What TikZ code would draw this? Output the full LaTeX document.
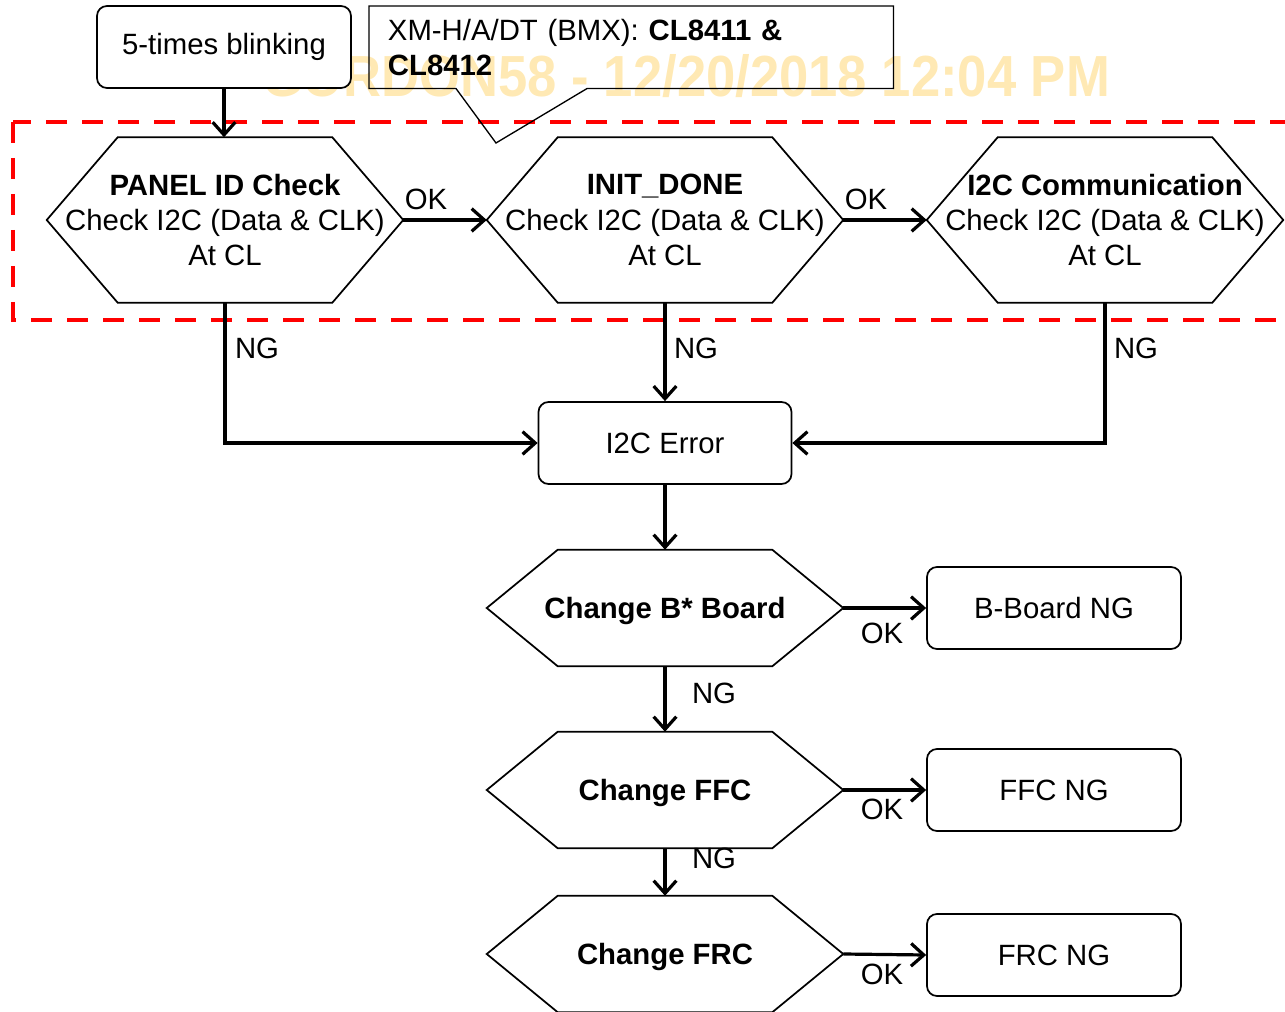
\documentclass[tikz,border=0pt]{standalone}
\usepackage{fontspec}
\setmainfont{Liberation Sans}
\usetikzlibrary{arrows.meta}
\definecolor{wmark}{RGB}{255,233,180}
\tikzset{
  txt/.style={font=\fontsize{22}{26.6}\selectfont},
  hexbox/.style={txt, draw=none, minimum width=160.5pt, align=center, inner sep=0pt},
  hextop/.style={hexbox, minimum height=123.75pt},
  hexlow/.style={hexbox, minimum height=87pt, text height=15.5pt, text depth=0pt},
  hexline/.style={draw=black, line width=1.3pt, line join=miter},
  rbox/.style={txt, draw, line width=1.3pt, rounded corners=7.5pt, minimum width=190.5pt, minimum height=61.5pt, fill=white, align=center, inner sep=0pt},
  flow/.style={line width=2.4pt, -{Straight Barb[length=9.5pt,width=17pt,line width=2.4pt]}},
  lbl/.style={txt, inner sep=0pt},
  callbox/.style={txt, draw=none, align=left, text width=365pt, inner xsep=14pt, inner ysep=0pt, minimum height=61.5pt},
  redframe/.style={draw=red, line width=3.3pt, dash pattern=on 16pt off 11pt},
}
\newcommand{\hl}[1]{\makebox[160.5pt]{#1}}
\newcommand{\hexout}[1]{\draw[hexline] (#1.north west) -- (#1.north east) -- ([xshift=53.25pt]#1.east) coordinate (#1-r) -- (#1.south east) -- (#1.south west) -- ([xshift=-53.25pt]#1.west) coordinate (#1-l) -- cycle;}
\begin{document}
\begin{tikzpicture}[x=0.75pt,y=-0.75pt]
\useasboundingbox (0,0) rectangle (1285,1012);
\begin{scope}
\clip (0,0) rectangle (1285,1012);
% watermark
\node[text=wmark, inner sep=0pt] (wm) at (686,76) {\scalebox{0.907}[1]{\fontsize{43.5}{43.5}\selectfont\bfseries GORDON58 - 12/20/2018 12:04 PM}};
% red dashed frame
\draw[redframe] (13,122) rectangle (1300,320);
% start box
\node[rbox] (blink) at (224,47) {5-times blinking};
% callout
\node[callbox, anchor=north west] (cal) at (369,6) {XM-H/A/DT (BMX): \textbf{CL8411 \&}\\\textbf{CL8412}};
\coordinate (calTip) at (496,143);
\draw[line width=1pt] (cal.south west) -- ([xshift=65.25pt]cal.south west) -- (calTip) -- ([xshift=163.5pt]cal.south west) -- (cal.south east) -- (cal.north east) -- (cal.north west) -- cycle;
% top hexagons
\node[hextop] (p) at (225,220) {\hl{\textbf{PANEL ID Check}}\\\hl{Check I2C (Data \& CLK)}\\\hl{At CL}};
\node[hextop] (i) at (665,220) {\hl{\textbf{INIT\_DONE}}\\\hl{Check I2C (Data \& CLK)}\\\hl{At CL}};
\node[hextop] (c) at (1105,220) {\hl{\textbf{I2C Communication}}\\\hl{Check I2C (Data \& CLK)}\\\hl{At CL}};
\hexout{p}\hexout{i}\hexout{c}
% error box
\node[rbox, minimum width=189.75pt] (err) at (665,443) {I2C Error};
% lower hexagons
\node[hexlow] (hb) at (665,608) {\hl{\textbf{Change B* Board}}};
\node[hexlow] (hf) at (665,790) {\hl{\textbf{Change FFC}}};
\node[hexlow] (hr) at (665,954) {\hl{\textbf{Change FRC}}};
\hexout{hb}\hexout{hf}\hexout{hr}
% result boxes
\node[rbox] (bb) at (1054,608) {B-Board NG};
\node[rbox] (fn) at (1054,790) {FFC NG};
\node[rbox] (rn) at (1054,955) {FRC NG};
% connectors
\draw[flow] (blink.south) -- (blink.south |- p.north);
\draw[flow] (p-r) -- (i-l);
\draw[flow] (i-r) -- (c-l);
\draw[flow] (p.south) |- (err.west);
\draw[flow] (i.south) -- (err.north);
\draw[flow] (c.south) |- (err.east);
\draw[flow] (err.south) -- (hb.north);
\draw[flow] (hb-r) -- (bb.west);
\draw[flow] (hb.south) -- (hf.north);
\draw[flow] (hf-r) -- (fn.west);
\draw[flow] (hf.south) -- (hr.north);
\draw[flow] (hr-r) -- (rn.west);
% labels
\node[lbl] (ok1) at (426,199) {OK};
\node[lbl] (ok2) at (866,199) {OK};
\node[lbl] (ng1) at (257,348) {NG};
\node[lbl] (ng2) at (696,348) {NG};
\node[lbl] (ng3) at (1136,348) {NG};
\node[lbl] (ok3) at (882,633) {OK};
\node[lbl] (ng4) at (714,693) {NG};
\node[lbl] (ok4) at (882,809) {OK};
\node[lbl] (ng5) at (714,858) {NG};
\node[lbl] (ok5) at (882,974) {OK};
\end{scope}
\end{tikzpicture}
\end{document}
